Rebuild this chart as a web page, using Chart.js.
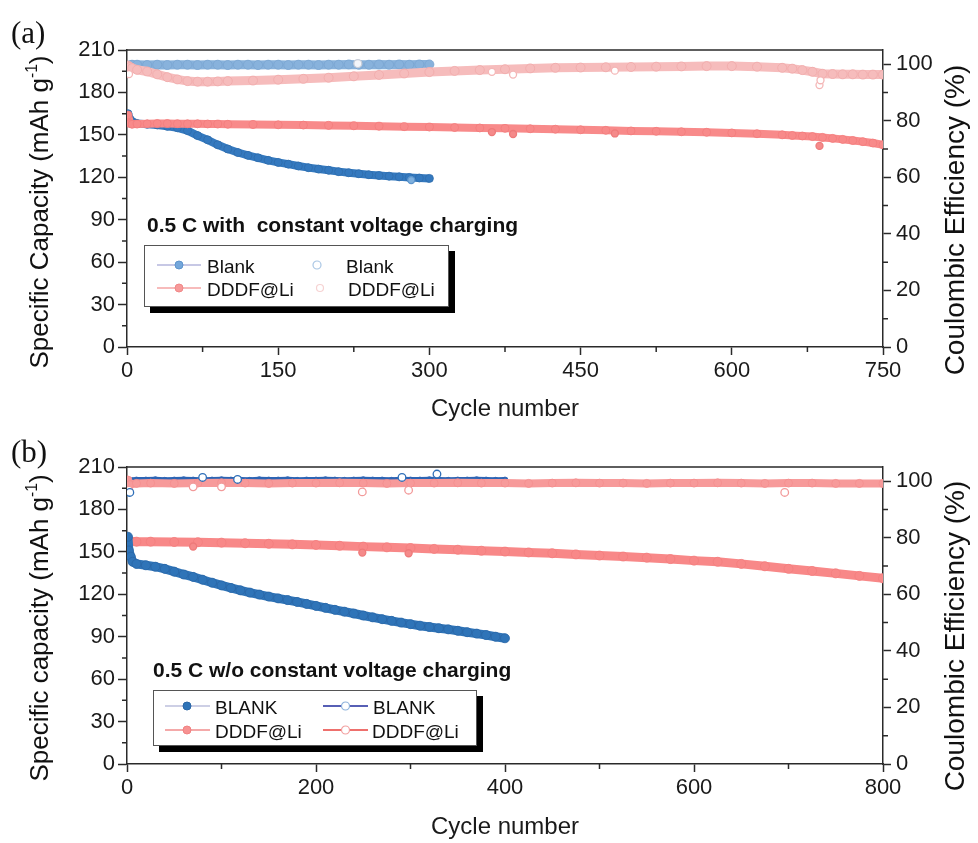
<!DOCTYPE html>
<html><head><meta charset="utf-8">
<script src="https://cdn.jsdelivr.net/npm/chart.js@4.4.0/dist/chart.umd.min.js"></script>
<style>
body{margin:0;background:#fff;}
#wrap{position:relative;width:978px;height:843px;overflow:hidden;background:#fff;font-family:"Liberation Sans",Arial,sans-serif;color:#111;}
canvas{position:absolute;left:0;}
.lbl{position:absolute;font-family:"Liberation Serif",serif;font-size:31px;line-height:1;color:#111;}
.ytitle{position:absolute;white-space:nowrap;line-height:1;transform:translate(-50%,-50%) rotate(-90deg);color:#111;}
.ytitle sup{font-size:0.6em;position:relative;top:-0.15em;}
.note{position:absolute;font-weight:bold;font-size:21px;white-space:pre;line-height:1;color:#111;}
.legend{position:absolute;border:1px solid #555;background:#fff;box-shadow:6px 6px 0 #000;}
.li{position:absolute;font-size:19px;white-space:nowrap;line-height:1;transform:translateY(-50%);color:#111;}
svg.sym{position:absolute;overflow:visible;}
</style></head>
<body><div id="wrap">
<canvas id="ca" width="978" height="432" style="top:0;width:978px;height:432px"></canvas>
<canvas id="cb" width="978" height="411" style="top:432px;width:978px;height:411px"></canvas>

<div class="lbl" style="left:11px;top:17px">(a)</div>
<div class="lbl" style="left:11px;top:436px">(b)</div>

<div class="ytitle" style="left:39px;top:212px;font-size:26px">Specific Capacity (mAh g<sup>-1</sup>)</div>
<div class="ytitle" style="left:955px;top:220px;font-size:28px">Coulombic Efficiency (%)</div>
<div class="ytitle" style="left:39px;top:628px;font-size:26px">Specific capacity (mAh g<sup>-1</sup>)</div>
<div class="ytitle" style="left:955px;top:636px;font-size:28px">Coulombic Efficiency (%)</div>

<div class="note" style="left:147px;top:214px">0.5 C with  constant voltage charging</div>
<div class="note" style="left:153px;top:659px">0.5 C w/o constant voltage charging</div>

<!-- legend (a) -->
<div class="legend" style="left:144px;top:245px;width:303px;height:60px"></div>
<svg class="sym" style="left:157px;top:259px" width="44" height="12"><line x1="0" y1="6" x2="44" y2="6" stroke="#b4b6dc" stroke-width="1.5"/><circle cx="22" cy="6" r="4" fill="#74a7db" stroke="#5e94cc" stroke-width="1"/></svg>
<div class="li" style="left:207px;top:266px">Blank</div>
<svg class="sym" style="left:295px;top:259px" width="44" height="12"><circle cx="22" cy="6" r="4" fill="#fff" stroke="#a9c6e4" stroke-width="1.2"/></svg>
<div class="li" style="left:346px;top:266px">Blank</div>
<svg class="sym" style="left:157px;top:282px" width="44" height="12"><line x1="0" y1="6" x2="44" y2="6" stroke="#f4a4a4" stroke-width="1.5"/><circle cx="22" cy="6" r="4" fill="#f79a9a" stroke="#f08888" stroke-width="1"/></svg>
<div class="li" style="left:207px;top:289px">DDDF@Li</div>
<svg class="sym" style="left:298px;top:282px" width="44" height="12"><circle cx="22" cy="6" r="3.5" fill="#fff" stroke="#f6d2d2" stroke-width="1.2"/></svg>
<div class="li" style="left:348px;top:289px">DDDF@Li</div>

<!-- legend (b) -->
<div class="legend" style="left:153px;top:690px;width:322px;height:54px"></div>
<svg class="sym" style="left:165px;top:700px" width="45" height="12"><line x1="0" y1="6" x2="45" y2="6" stroke="#bcbfdc" stroke-width="1.5"/><circle cx="22" cy="6" r="4" fill="#2f74b8" stroke="#2a66a6" stroke-width="1"/></svg>
<div class="li" style="left:215px;top:707px">BLANK</div>
<svg class="sym" style="left:323px;top:700px" width="45" height="12"><line x1="0" y1="6" x2="45" y2="6" stroke="#1f2a9c" stroke-width="1.5"/><circle cx="22.5" cy="6" r="4" fill="#fff" stroke="#8fb3dc" stroke-width="1.2"/></svg>
<div class="li" style="left:373px;top:707px">BLANK</div>
<svg class="sym" style="left:165px;top:724px" width="45" height="12"><line x1="0" y1="6" x2="45" y2="6" stroke="#f08c8c" stroke-width="1.5"/><circle cx="22" cy="6" r="4" fill="#f79292" stroke="#f08282" stroke-width="1"/></svg>
<div class="li" style="left:215px;top:731px">DDDF@Li</div>
<svg class="sym" style="left:323px;top:724px" width="45" height="12"><line x1="0" y1="6" x2="45" y2="6" stroke="#e8403c" stroke-width="1.5"/><circle cx="22.5" cy="6" r="4" fill="#fff" stroke="#f2a0a0" stroke-width="1.2"/></svg>
<div class="li" style="left:372px;top:731px">DDDF@Li</div>
</div>

<script>
// ---------- tick labels ----------
const xTicksA=[0,150,300,450,600,750];
const xMinorA=[75,225,375,525,675];
const xTicksB=[0,200,400,600,800];
const xMinorB=[100,300,500,700];
const capTicks=[0,30,60,90,120,150,180,210];
const capMinor=[15,45,75,105,135,165,195];
const ceTicks=[0,20,40,60,80,100];
const ceMinor=[10,30,50,70,90];

// ---------- panel (a) data ----------
const cycBlankA=[1,3,5,10,20,30,40,50,60,70,80,90,100,110,120,130,140,150,160,170,180,190,200,210,220,230,240,250,260,270,280,290,300];
const capBlankA=[165,161,159.5,158,157.5,157,156,155,153,149.5,146.5,143,140,137.5,135.5,133.8,132,130.5,129.3,128,126.8,125.8,125,124,123.2,122.5,121.8,121.3,120.8,120.3,119.9,119.5,119.2];
const ceBlankA=[99.0,99.6,99.8,99.8,99.7,99.8,99.7,99.8,99.8,99.7,99.8,99.8,99.7,99.8,99.8,99.7,99.8,99.8,99.7,99.8,99.8,99.7,99.8,99.8,99.9,99.8,99.8,99.9,99.8,99.9,99.8,99.9,99.9];

const cycDddfA=[1,3,5,10,20,30,40,50,60,70,80,90,100,125,150,175,200,225,250,275,300,325,350,375,400,425,450,475,500,525,550,575,600,625,650,660,670,680,690,700,710,720,730,740,750];
const capDddfA=[164,158,157.5,157.6,157.8,158,158,157.9,157.8,157.8,157.7,157.6,157.5,157.3,157.1,156.9,156.7,156.4,156.1,155.8,155.5,155.2,154.9,154.6,154.3,154,153.6,153.2,152.8,152.5,152.2,151.8,151.4,150.8,150,149.6,149.2,148.8,148.2,147.5,146.8,146,145.2,144.2,143];
const ceDddfA=[99.5,99,98.6,98,97.4,96.4,95.4,94.6,94,93.8,93.8,93.9,94,94.2,94.5,94.8,95.2,95.7,96.2,96.7,97.2,97.6,97.9,98.2,98.5,98.7,98.8,98.9,99,99.1,99.2,99.3,99.3,99.1,98.7,98.4,97.9,97.3,96.6,96.5,96.4,96.4,96.3,96.3,96.3];

const outCycBlankCapA=[282];       const outBlankCapA=[118];
const outCycBlankCeA=[229];        const outBlankCeA=[100.2];
const outCycDddfCapA=[362,383,484,687]; const outDddfCapA=[152,150.6,151,142.2];
const outCycDddfCeA=[2,362,383,484,687,688]; const outDddfCeA=[96.5,97.3,96.3,97.7,92.6,94.3];

// ---------- panel (b) data ----------
const cycBlankB=[1,2,4,6,10,20,30,40,50,60,70,80,90,100,110,120,130,140,150,160,170,180,190,200,210,220,230,240,250,260,270,280,290,300,310,320,330,340,350,360,370,380,390,400];
const capBlankB=[160.7,151,146.6,143,141.5,140.5,139.5,138,136,134,132.3,130.3,128.2,126.3,124.5,122.8,121.2,119.8,118.4,117.1,115.9,114.6,113.2,111.8,110.4,109,107.7,106.4,105,103.7,102.4,101.2,100,98.9,97.8,96.9,96,95.2,94.2,93.2,92.2,91.2,90,88.9];
const ceBlankB=[96.8,99.2,99.9,100.2,100.4,100.4,100.5,100.3,100.4,100.5,100.4,100.3,100.4,100.5,100.4,100.4,100.3,100.5,100.4,100.4,100.5,100.3,100.4,100.4,100.5,100.4,100.3,100.4,100.5,100.4,100.4,100.3,100.5,100.4,100.4,100.5,100.4,100.3,100.4,100.4,100.5,100.4,100.3,100.4];

const cycDddfB=[1,3,10,25,50,75,100,125,150,175,200,225,250,275,300,325,350,375,400,425,450,475,500,525,550,575,600,625,650,675,700,725,750,775,800];
const capDddfB=[159.6,157.5,157.2,157.2,157,156.8,156.5,156.1,155.7,155.3,154.9,154.3,153.7,153.2,152.7,152.1,151.5,150.8,150.2,149.6,149,148.2,147.4,146.7,145.9,144.9,143.8,143,141.5,139.8,138,136.5,134.8,133,131.3];
const ceDddfB=[100.4,98.8,99.2,99.3,99.2,99.3,99.4,99.3,99.2,99.3,99.3,99.4,99.3,99.2,99.3,99.3,99.4,99.3,99.3,99.2,99.3,99.4,99.3,99.3,99.2,99.3,99.3,99.4,99.3,99.2,99.3,99.3,99.2,99.2,99.2];

const outCycBlankCeB=[3,80,117,291,328];   const outBlankCeB=[96,101.3,100.6,101.3,102.5];
const outCycDddfCapB=[70,249,298];        const outDddfCapB=[153.8,149.5,149];
const outCycDddfCeB=[2,70,100,249,298,696]; const outDddfCeB=[96.8,98,98,96.2,96.8,96];

// ---------- helpers ----------
const FF='"Liberation Sans", Arial, sans-serif';
const AX='#2a2a2a', TX='#1a1a1a';
const pts=(xs,ys)=>xs.map((x,i)=>({x:x,y:ys[i]}));
function band(xs,ys,axis,line,stroke,w,r){
  return {data:pts(xs,ys),yAxisID:axis,showLine:true,borderColor:line,borderWidth:w,
    pointRadius:r,pointBackgroundColor:line,pointBorderColor:stroke,pointBorderWidth:0.8,tension:0};
}
function dots(xs,ys,axis,fill,stroke,r){
  return {data:pts(xs,ys),yAxisID:axis,showLine:false,pointRadius:r,
    pointBackgroundColor:fill,pointBorderColor:stroke,pointBorderWidth:1.3};
}
const extras={id:'extras',afterDraw(chart,args,o){
  const ctx=chart.ctx, ca=chart.chartArea;
  ctx.save(); ctx.strokeStyle=AX; ctx.lineWidth=1.5; ctx.beginPath();
  ctx.moveTo(ca.left,ca.top); ctx.lineTo(ca.right,ca.top);
  const sx=chart.scales.x, sy=chart.scales.y, sy2=chart.scales.y2;
  o.xMinor.forEach(v=>{const p=sx.getPixelForValue(v); ctx.moveTo(p,ca.bottom); ctx.lineTo(p,ca.bottom+5);});
  o.yMinor.forEach(v=>{const p=sy.getPixelForValue(v); ctx.moveTo(ca.left-5,p); ctx.lineTo(ca.left,p);});
  o.y2Minor.forEach(v=>{const p=sy2.getPixelForValue(v); ctx.moveTo(ca.right,p); ctx.lineTo(ca.right+5,p);});
  ctx.stroke(); ctx.restore();
}};
function opts(xMax,xTicks,xMinor,padTop,xH,pb){
  const grid=(len)=>({drawOnChartArea:false,drawTicks:true,tickLength:len,tickColor:AX,tickWidth:1.5});
  return {
    responsive:false,animation:false,
    layout:{padding:{top:padTop,left:0,right:0,bottom:0}},
    plugins:{legend:{display:false},tooltip:{enabled:false},
      extras:{xMinor:xMinor,yMinor:capMinor,y2Minor:ceMinor}},
    scales:{
      x:{type:'linear',position:'bottom',min:0,max:xMax,
        afterBuildTicks:s=>{s.ticks=xTicks.map(v=>({value:v}));},
        afterFit:s=>{s.height=xH;},
        grid:grid(8),border:{display:true,color:AX,width:1.5},
        ticks:{font:{family:FF,size:22},color:TX,padding:3,maxRotation:0,autoSkip:false},
        title:{display:true,text:'Cycle number',font:{family:FF,size:24},color:TX,padding:{top:0,bottom:pb}}},
      y:{type:'linear',position:'left',min:0,max:210,
        afterBuildTicks:s=>{s.ticks=capTicks.map(v=>({value:v}));},
        afterFit:s=>{s.width=127;},
        grid:grid(9),border:{display:true,color:AX,width:1.5},
        ticks:{font:{family:FF,size:22},color:TX,padding:3}},
      y2:{type:'linear',position:'right',min:0,max:105,
        afterBuildTicks:s=>{s.ticks=ceTicks.map(v=>({value:v}));},
        afterFit:s=>{s.width=95;},
        grid:grid(8),border:{display:true,color:AX,width:1.5},
        ticks:{font:{family:FF,size:22},color:TX,padding:5}}
    }
  };
}

// ---------- chart (a) ----------
new Chart(document.getElementById('ca'),{
  type:'scatter',
  data:{datasets:[
    dots(outCycDddfCapA,outDddfCapA,'y','#f58a8a','#ee7a7a',3.5),
    dots(outCycBlankCapA,outBlankCapA,'y','#7fb0de','#5d95cc',3.5),
    dots(outCycDddfCeA,outDddfCeA,'y2','#fff','#f4b6b6',3.5),
    dots(outCycBlankCeA,outBlankCeA,'y2','#f4f6fa','#c8cdd8',4),
    band(cycDddfA,capDddfA,'y','#f88a8a','#f37c7c',8,4),
    band(cycBlankA,capBlankA,'y','#3479bf','#2e6cab',8,4),
    band(cycDddfA,ceDddfA,'y2','#f6bcbc','#f0aaaa',9,4.5),
    band(cycBlankA,ceBlankA,'y2','#88b2dc','#7aa4d0',9,4.5)
  ]},
  options:opts(750,xTicksA,xMinorA,50,85,8),
  plugins:[extras]
});

// ---------- chart (b) ----------
new Chart(document.getElementById('cb'),{
  type:'scatter',
  data:{datasets:[
    dots(outCycBlankCeB,outBlankCeB,'y2','#fff','#2f6fb8',3.8),
    dots(outCycDddfCapB,outDddfCapB,'y','#f58a8a','#ee7a7a',3.5),
    dots(outCycDddfCeB,outDddfCeB,'y2','#fff','#f29a9a',3.8),
    band(cycDddfB,ceDddfB,'y2','#f79a9a','#f48e8e',8,4),
    band(cycBlankB,ceBlankB,'y2','#2d64b4','#2d64b4',6,3),
    band(cycBlankB,capBlankB,'y','#2f74b8','#2a66a6',9,4.5),
    band(cycDddfB,capDddfB,'y','#f88888','#f27e7e',9,4.5)
  ]},
  options:opts(800,xTicksB,xMinorB,35,79,1),
  plugins:[extras]
});
</script>
</body></html>
